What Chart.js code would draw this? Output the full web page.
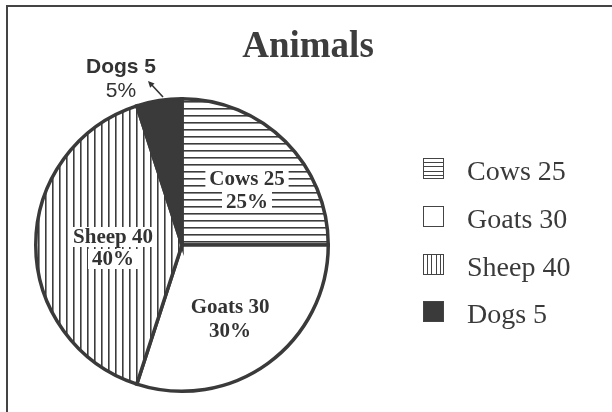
<!DOCTYPE html>
<html>
<head>
    <meta charset="UTF-8">
    <title>Animals</title>
    <script src="https://cdn.jsdelivr.net/npm/chart.js"></script>
    <style>
        body { margin: 0; background: #fff; }
        .wrap { position: relative; width: 612px; height: 412px; }
        .frame {
            position: absolute; left: 6px; top: 5px; right: 0; bottom: 0;
            border-top: 2px solid #444; border-left: 2px solid #444;
            pointer-events: none;
        }
    </style>
</head>
<body>
<div class="wrap">
    <canvas id="animalsChart"></canvas>
    <div class="frame"></div>
</div>
<script>
    // data
    const chartTitle = 'Animals';
    const categories = ['Cows', 'Goats', 'Sheep', 'Dogs'];
    const counts = [25, 30, 40, 5];
    const total = counts.reduce((a, b) => a + b, 0);

    const INK = '#3a3a3a';

    // hatch patterns for the slices
    function linePattern(vertical) {
        const c = document.createElement('canvas');
        c.width = 7; c.height = 7;
        const g = c.getContext('2d');
        g.fillStyle = '#fff';
        g.fillRect(0, 0, 7, 7);
        g.fillStyle = '#3c3c3c';
        if (vertical) g.fillRect(3, 0, 1, 7); else g.fillRect(0, 3, 7, 1);
        g.fillStyle = 'rgba(60,60,60,0.6)';
        if (vertical) g.fillRect(4, 0, 1, 7); else g.fillRect(0, 4, 7, 1);
        return c;
    }

    const canvas = document.getElementById('animalsChart');
    const ctx = canvas.getContext('2d');
    const fills = [
        ctx.createPattern(linePattern(false), 'repeat'),
        '#ffffff',
        ctx.createPattern(linePattern(true), 'repeat'),
        INK
    ];

    // small legend swatches
    function drawSwatch(g, i, x, y, s) {
        g.save();
        g.fillStyle = i === 3 ? INK : '#fff';
        g.fillRect(x, y, s, s);
        g.strokeStyle = '#444';
        g.lineWidth = 1;
        g.beginPath();
        if (i === 0) {
            for (let k = 1; k < 5; k++) {
                const yy = Math.round(y + k * s / 5) + 0.5;
                g.moveTo(x, yy); g.lineTo(x + s, yy);
            }
        } else if (i === 2) {
            for (let k = 1; k < 5; k++) {
                const xx = Math.round(x + k * s / 5) + 0.5;
                g.moveTo(xx, y); g.lineTo(xx, y + s);
            }
        }
        g.stroke();
        g.strokeRect(x + 0.5, y + 0.5, s - 1, s - 1);
        g.restore();
    }

    function boxedText(g, text, x, y) {
        const w = g.measureText(text).width;
        g.fillStyle = '#fff';
        g.fillRect(x - w / 2 - 4, y - 16, w + 8, 20);
        g.fillStyle = '#333';
        g.fillText(text, x, y);
    }

    const annotations = {
        id: 'annotations',
        afterDatasetsDraw(chart) {
            const g = chart.ctx;
            const arc = chart.getDatasetMeta(0).data[0];
            const cx = arc.x, cy = arc.y;
            const pct = counts.map(v => Math.round(v / total * 100) + '%');

            g.save();
            g.textAlign = 'center';
            g.textBaseline = 'alphabetic';

            // title
            g.fillStyle = '#3d3d3d';
            g.font = 'bold 37px "Liberation Serif", serif';
            g.fillText(chartTitle, 308, 57);

            // slice labels
            g.font = 'bold 21px "Liberation Serif", serif';
            boxedText(g, categories[0] + ' ' + counts[0], cx + 65, cy - 60);
            boxedText(g, pct[0], cx + 65, cy - 37);
            boxedText(g, categories[2] + ' ' + counts[2], cx - 69, cy - 2);
            boxedText(g, pct[2], cx - 69, cy + 20);
            g.fillStyle = '#333';
            g.fillText(categories[1] + ' ' + counts[1], cx + 48, cy + 68);
            g.fillText(pct[1], cx + 48, cy + 92);

            // outside label for the small slice
            g.font = 'bold 21px "Liberation Sans", sans-serif';
            g.fillText(categories[3] + ' ' + counts[3], cx - 61, cy - 172);
            g.font = '21px "Liberation Sans", sans-serif';
            g.fillText(pct[3], cx - 61, cy - 148);

            // arrow
            g.strokeStyle = '#333';
            g.fillStyle = '#333';
            g.lineWidth = 1.6;
            const x1 = cx - 19, y1 = cy - 148, x2 = cx - 34, y2 = cy - 164;
            g.beginPath(); g.moveTo(x1, y1); g.lineTo(x2 + 2, y2 + 2); g.stroke();
            const a = Math.atan2(y2 - y1, x2 - x1);
            g.beginPath();
            g.moveTo(x2, y2);
            g.lineTo(x2 - 7 * Math.cos(a - 0.45), y2 - 7 * Math.sin(a - 0.45));
            g.lineTo(x2 - 7 * Math.cos(a + 0.45), y2 - 7 * Math.sin(a + 0.45));
            g.closePath(); g.fill();

            // legend
            g.textAlign = 'left';
            g.font = '28px "Liberation Serif", serif';
            categories.forEach((name, i) => {
                const base = 180 + i * 47.8;
                drawSwatch(g, i, 423, Math.round(base - 22), 21);
                g.fillStyle = INK;
                g.fillText(name + ' ' + counts[i], 467, base);
            });
            g.restore();
        }
    };

    const animalsChart = new Chart(canvas, {
        type: 'pie',
        data: {
            labels: categories,
            datasets: [{
                data: counts,
                backgroundColor: fills,
                borderColor: INK,
                borderWidth: 3.5,
                borderJoinStyle: 'miter'
            }]
        },
        options: {
            responsive: true,
            maintainAspectRatio: false,
            animation: false,
            layout: { padding: { left: 34, top: 97, right: 282, bottom: 19 } },
            plugins: {
                legend: { display: false },
                title: { display: false },
                tooltip: { enabled: false }
            }
        },
        plugins: [annotations]
    });
</script>
</body>
</html>
